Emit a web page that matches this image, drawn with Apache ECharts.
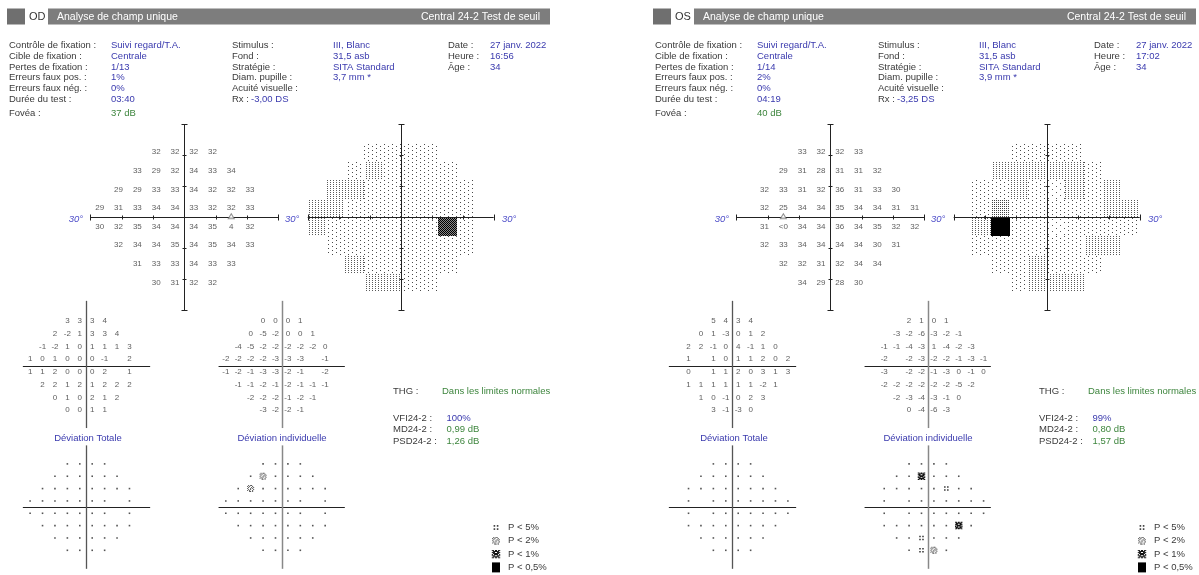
<!DOCTYPE html>
<html>
<head>
<meta charset="utf-8">
<title>Analyse de champ unique</title>
<script src="https://cdn.jsdelivr.net/npm/echarts@6.0.0/dist/echarts.min.js"></script>
<style>
html,body{margin:0;padding:0;background:#fff;}
#chart{width:1199px;height:575px;}
</style>
</head>
<body>
<div id="chart"></div>
<script>
// ================= DATA =================
const rowY = [21, 15, 9, 3, -3, -9, -15, -21];
const odColumns = [
  [-9, -3, 3, 9],
  [-15, -9, -3, 3, 9, 15],
  [-21, -15, -9, -3, 3, 9, 15, 21],
  [-27, -21, -15, -9, -3, 3, 9, 15, 21],
  [-27, -21, -15, -9, -3, 3, 9, 15, 21],
  [-21, -15, -9, -3, 3, 9, 15, 21],
  [-15, -9, -3, 3, 9, 15],
  [-9, -3, 3, 9]
];
const osColumns = [
  [-9, -3, 3, 9],
  [-15, -9, -3, 3, 9, 15],
  [-21, -15, -9, -3, 3, 9, 15, 21],
  [-21, -15, -9, -3, 3, 9, 15, 21, 27],
  [-21, -15, -9, -3, 3, 9, 15, 21, 27],
  [-21, -15, -9, -3, 3, 9, 15, 21],
  [-15, -9, -3, 3, 9, 15],
  [-9, -3, 3, 9]
];
const axisTicks = [-20, -10, 10, 20];
const odBlindSpotMarker = [[15, 0]];
const osBlindSpotMarker = [[-15, 0]];

const odThreshold = [
  [32, 32, 32, 32],
  [33, 29, 32, 34, 33, 34],
  [29, 29, 33, 33, 34, 32, 32, 33],
  [29, 31, 33, 34, 34, 33, 32, 32, 33],
  [30, 32, 35, 34, 34, 34, 35, 4, 32],
  [32, 34, 34, 35, 34, 35, 34, 33],
  [31, 33, 33, 34, 33, 33],
  [30, 31, 32, 32]
];
const osThreshold = [
  [33, 32, 32, 33],
  [29, 31, 28, 31, 31, 32],
  [32, 33, 31, 32, 36, 31, 33, 30],
  [32, 25, 34, 34, 35, 34, 34, 31, 31],
  [31, '<0', 34, 34, 36, 34, 35, 32, 32],
  [32, 33, 34, 34, 34, 34, 30, 31],
  [32, 32, 31, 32, 34, 34],
  [34, 29, 28, 30]
];
const odTotalDev = [
  [3, 3, 3, 4],
  [2, -2, 1, 3, 3, 4],
  [-1, -2, 1, 0, 1, 1, 1, 3],
  [1, 0, 1, 0, 0, 0, -1, null, 2],
  [1, 1, 2, 0, 0, 0, 2, null, 1],
  [2, 2, 1, 2, 1, 2, 2, 2],
  [0, 1, 0, 2, 1, 2],
  [0, 0, 1, 1]
];
const odPatternDev = [
  [0, 0, 0, 1],
  [0, -5, -2, 0, 0, 1],
  [-4, -5, -2, -2, -2, -2, -2, 0],
  [-2, -2, -2, -2, -3, -3, -3, null, -1],
  [-1, -2, -1, -3, -3, -2, -1, null, -2],
  [-1, -1, -2, -1, -2, -1, -1, -1],
  [-2, -2, -2, -1, -2, -1],
  [-3, -2, -2, -1]
];
const osTotalDev = [
  [5, 4, 3, 4],
  [0, 1, -3, 0, 1, 2],
  [2, 2, -1, 0, 4, -1, 1, 0],
  [1, null, 1, 0, 1, 1, 2, 0, 2],
  [0, null, 1, 1, 2, 0, 3, 1, 3],
  [1, 1, 1, 1, 1, 1, -2, 1],
  [1, 0, -1, 0, 2, 3],
  [3, -1, -3, 0]
];
const osPatternDev = [
  [2, 1, 0, 1],
  [-3, -2, -6, -3, -2, -1],
  [-1, -1, -4, -3, 1, -4, -2, -3],
  [-2, null, -2, -3, -2, -2, -1, -3, -1],
  [-3, null, -2, -2, -1, -3, 0, -1, 0],
  [-2, -2, -2, -2, -2, -2, -5, -2],
  [-2, -3, -4, -3, -1, 0],
  [0, -4, -6, -3]
];
// probability codes: 0 normal, 1 P<5%, 2 P<2%, 3 P<1%, 4 P<0,5%
const odTotalProb = [
  [0, 0, 0, 0],
  [0, 0, 0, 0, 0, 0],
  [0, 0, 0, 0, 0, 0, 0, 0],
  [0, 0, 0, 0, 0, 0, 0, null, 0],
  [0, 0, 0, 0, 0, 0, 0, null, 0],
  [0, 0, 0, 0, 0, 0, 0, 0],
  [0, 0, 0, 0, 0, 0],
  [0, 0, 0, 0]
];
const odPatternProb = [
  [0, 0, 0, 0],
  [0, 2, 0, 0, 0, 0],
  [0, 2, 0, 0, 0, 0, 0, 0],
  [0, 0, 0, 0, 0, 0, 0, null, 0],
  [0, 0, 0, 0, 0, 0, 0, null, 0],
  [0, 0, 0, 0, 0, 0, 0, 0],
  [0, 0, 0, 0, 0, 0],
  [0, 0, 0, 0]
];
const osTotalProb = [
  [0, 0, 0, 0],
  [0, 0, 0, 0, 0, 0],
  [0, 0, 0, 0, 0, 0, 0, 0],
  [0, null, 0, 0, 0, 0, 0, 0, 0],
  [0, null, 0, 0, 0, 0, 0, 0, 0],
  [0, 0, 0, 0, 0, 0, 0, 0],
  [0, 0, 0, 0, 0, 0],
  [0, 0, 0, 0]
];
const osPatternProb = [
  [0, 0, 0, 0],
  [0, 0, 3, 0, 0, 0],
  [0, 0, 0, 0, 0, 1, 0, 0],
  [0, null, 0, 0, 0, 0, 0, 0, 0],
  [0, null, 0, 0, 0, 0, 0, 0, 0],
  [0, 0, 0, 0, 0, 0, 3, 0],
  [0, 0, 1, 0, 0, 0],
  [0, 1, 2, 0]
];

const odInfoCol1 = [['Contrôle de fixation :', 'Suivi regard/T.A.'], ['Cible de fixation :', 'Centrale'], ['Pertes de fixation :', '1/13'], ['Erreurs faux pos. :', '1%'], ['Erreurs faux nég. :', '0%'], ['Durée du test :', '03:40']];
const odInfoCol2 = [['Stimulus :', 'III, Blanc'], ['Fond :', '31,5 asb'], ['Stratégie :', 'SITA Standard'], ['Diam. pupille :', '3,7 mm *'], ['Acuité visuelle :', ''], ['Rx :', '-3,00 DS']];
const odInfoCol3 = [['Date :', '27 janv. 2022'], ['Heure :', '16:56'], ['Âge :', '34']];
const odFovea = '37 dB';
const odIndices = [['VFI24-2 :', '100%'], ['MD24-2 :', '0,99 dB'], ['PSD24-2 :', '1,26 dB']];
const osInfoCol1 = [['Contrôle de fixation :', 'Suivi regard/T.A.'], ['Cible de fixation :', 'Centrale'], ['Pertes de fixation :', '1/14'], ['Erreurs faux pos. :', '2%'], ['Erreurs faux nég. :', '0%'], ['Durée du test :', '04:19']];
const osInfoCol2 = [['Stimulus :', 'III, Blanc'], ['Fond :', '31,5 asb'], ['Stratégie :', 'SITA Standard'], ['Diam. pupille :', '3,9 mm *'], ['Acuité visuelle :', ''], ['Rx :', '-3,25 DS']];
const osInfoCol3 = [['Date :', '27 janv. 2022'], ['Heure :', '17:02'], ['Âge :', '34']];
const osFovea = '40 dB';
const osIndices = [['VFI24-2 :', '99%'], ['MD24-2 :', '0,80 dB'], ['PSD24-2 :', '1,57 dB']];
const legendLabels = ['P < 5%', 'P < 2%', 'P < 1%', 'P < 0,5%'];

// ================= STYLE / LAYOUT =================
const FONT = '"Liberation Sans", Arial, sans-serif';
const C_LABEL = '#3a3a3a', C_BLUE = '#3a3aae', C_GREEN = '#3d853d', C_AXLBL = '#4b4bc8';
const PLOTS = {
  thr:  { cx: 184.3, cy: 217.3, sx: 3.13, sy: 3.1 },
  grey: { cx: 400.7, cy: 217.3, sx: 3.1,  sy: 3.1 },
  td:   { cx: 86,    cy: 365.5, sx: 2.07, sy: 2.12 },
  pd:   { cx: 281.7, cy: 365.5, sx: 2.07, sy: 2.12 },
  tdp:  { cx: 86,    cy: 508.5, sx: 2.07, sy: 2.1 },
  pdp:  { cx: 281.7, cy: 508.5, sx: 2.07, sy: 2.1 }
};

const BM_P5 = ['#.#', '...', '#.#'];
const BM_P2 = [
  '.#.##..',
  '#.#..#.',
  '.#..#.#',
  '#..#.#.',
  '.#.#..#',
  '#.#..#.',
  '..##.#.'
];
const BM_P1 = [
  '##.##.##',
  '.######.',
  '###..###',
  '.######.',
  '#.####.#',
  '###..###',
  '.######.',
  '##.##.##'
];
function bitmapPath(rows) {
  let d = '';
  rows.forEach((r, y) => { for (let x = 0; x < r.length; x++) if (r[x] === '#') d += 'M' + x + ' ' + y + 'h1v1h-1z'; });
  return d;
}
const PROB_SYMBOL = ['rect', 'path://' + bitmapPath(BM_P5), 'path://' + bitmapPath(BM_P2), 'path://' + bitmapPath(BM_P1), 'rect'];
const PROB_SIZE = [1.6, 4.5, 7, 7.5, 8];
const PROB_COLOR = ['#555', '#333', '#555', '#111', '#000'];

function makeTile(w, h, dots, color, bg) {
  const c = document.createElement('canvas');
  c.width = w; c.height = h;
  const g = c.getContext('2d');
  if (bg) { g.fillStyle = bg; g.fillRect(0, 0, w, h); }
  g.fillStyle = color;
  dots.forEach(p => g.fillRect(p[0], p[1], 1, 1));
  return { image: c, repeat: 'repeat' };
}
const greyFills = [
  makeTile(8, 6, [[0, 0], [4, 3]], '#5a5a5a'),
  makeTile(8, 4, [[0, 0], [4, 2]], '#4a4a4a'),
  makeTile(3, 2, [[0, 0]], '#5a5a5a'),
  makeTile(2, 2, [[0, 0]], '#444'),
  makeTile(2, 2, [[0, 0], [1, 1]], '#444'),
  makeTile(2, 2, [[0, 0], [1, 1], [1, 0]], '#333'),
  makeTile(2, 2, [[0, 0]], '#111', '#999'),
  makeTile(2, 2, [[0, 0], [1, 1]], '#000', '#8a8a8a'),
  '#000'
];
function greyLevel(v) {
  const n = typeof v === 'string' ? -1 : v;
  if (n <= 0) return 8;
  if (n <= 5) return 7;
  if (n <= 10) return 6;
  if (n <= 15) return 5;
  if (n <= 20) return 4;
  if (n <= 25) return 3;
  if (n <= 31) return 2;
  if (n <= 35) return 1;
  return 0;
}

// ================= BUILD =================
const grids = [], xAxes = [], yAxes = [], series = [], graphics = [];
const R = 33;
function addGrid(p, ox) {
  const i = grids.length;
  grids.push({ left: p.cx + ox - R * p.sx, top: p.cy - R * p.sy, width: 2 * R * p.sx, height: 2 * R * p.sy, show: false });
  xAxes.push({ gridIndex: i, type: 'value', min: -R, max: R, show: false });
  yAxes.push({ gridIndex: i, type: 'value', min: -R, max: R, show: false });
  return i;
}
function crossSeries(gi, o) {
  return {
    type: 'custom', xAxisIndex: gi, yAxisIndex: gi, silent: true, z: 5, animation: false,
    data: [[0, 0]],
    renderItem(params, api) {
      const ch = [];
      const c = api.coord([0, 0]);
      const cx = Math.round(c[0]) + 0.5, cy = Math.round(c[1]) + 0.5;
      const xl = api.coord([o.hExt[0], 0])[0], xr = api.coord([o.hExt[1], 0])[0];
      const yt = api.coord([0, o.vExt[1]])[1], yb = api.coord([0, o.vExt[0]])[1];
      ch.push({ type: 'line', shape: { x1: xl, y1: cy, x2: xr, y2: cy }, style: { stroke: o.hColor, lineWidth: 1 } });
      ch.push({ type: 'line', shape: { x1: cx, y1: yt, x2: cx, y2: yb }, style: { stroke: o.vColor, lineWidth: o.vWidth } });
      if (o.ticks) {
        axisTicks.forEach(t => {
          const px = Math.round(api.coord([t, 0])[0]) + 0.5;
          const py = Math.round(api.coord([0, t])[1]) + 0.5;
          ch.push({ type: 'line', shape: { x1: px, y1: cy - 2, x2: px, y2: cy + 2 }, style: { stroke: o.hColor, lineWidth: 1 } });
          ch.push({ type: 'line', shape: { x1: cx - 2, y1: py, x2: cx + 2, y2: py }, style: { stroke: o.vColor, lineWidth: 1 } });
        });
        [xl, xr].forEach(px => ch.push({ type: 'line', shape: { x1: Math.round(px) + 0.5, y1: cy - 3, x2: Math.round(px) + 0.5, y2: cy + 3 }, style: { stroke: o.hColor, lineWidth: 1 } }));
        [yt, yb].forEach(py => ch.push({ type: 'line', shape: { x1: cx - 3, y1: Math.round(py) + 0.5, x2: cx + 3, y2: Math.round(py) + 0.5 }, style: { stroke: o.vColor, lineWidth: 1 } }));
      }
      return { type: 'group', children: ch };
    }
  };
}
function numberSeries(gi, values, columns) {
  const data = [];
  values.forEach((row, r) => row.forEach((v, c) => {
    if (v !== null) data.push({ value: [columns[r][c], rowY[r]], name: String(v) });
  }));
  return {
    type: 'scatter', xAxisIndex: gi, yAxisIndex: gi, silent: true, z: 3, animation: false,
    symbolSize: 1, itemStyle: { color: 'rgba(0,0,0,0)' }, data,
    label: { show: true, position: 'inside', formatter: '{b}', fontSize: 8, fontFamily: FONT, color: '#333' }
  };
}
function greySeries(gi, values, columns) {
  const data = [];
  values.forEach((row, r) => row.forEach((v, c) => data.push([columns[r][c], rowY[r], greyLevel(v)])));
  return {
    type: 'custom', xAxisIndex: gi, yAxisIndex: gi, silent: true, z: 2, animation: false, data,
    renderItem(params, api) {
      const x = api.value(0), y = api.value(1), l = api.value(2);
      const a = api.coord([x - 3, y + 3]), b = api.coord([x + 3, y - 3]);
      const x0 = Math.round(a[0]), y0 = Math.round(a[1]), x1 = Math.round(b[0]), y1 = Math.round(b[1]);
      return { type: 'rect', shape: { x: x0, y: y0, width: x1 - x0, height: y1 - y0 }, style: { fill: greyFills[l] } };
    }
  };
}
function probSeries(gi, codes, columns) {
  const data = [];
  codes.forEach((row, r) => row.forEach((v, c) => { if (v !== null) data.push([columns[r][c], rowY[r], v]); }));
  return {
    type: 'scatter', xAxisIndex: gi, yAxisIndex: gi, silent: true, z: 3, animation: false, data,
    symbol: val => PROB_SYMBOL[val[2]],
    symbolSize: val => PROB_SIZE[val[2]],
    itemStyle: { color: p => PROB_COLOR[p.data[2]], opacity: 1 }
  };
}
function markerSeries(gi, pts) {
  return {
    type: 'scatter', xAxisIndex: gi, yAxisIndex: gi, silent: true, z: 6, animation: false,
    data: pts, symbol: 'triangle', symbolSize: [6, 5], symbolOffset: [0, -1],
    itemStyle: { color: '#fff', borderColor: '#777', borderWidth: 1 }
  };
}
function txt(x, y, text, fill, size, extra) {
  return { type: 'text', x, y, silent: true, z: 10,
    style: Object.assign({ text, fill, fontSize: size, fontFamily: FONT, verticalAlign: 'middle', align: 'left' }, extra || {}) };
}
function bitmapGroup(rows, cx, cy, px, color) {
  const h = rows.length, w = rows[0].length;
  const x0 = cx - w * px / 2, y0 = cy - h * px / 2;
  const ch = [];
  rows.forEach((r, y) => { for (let x = 0; x < r.length; x++) if (r[x] === '#') ch.push({ type: 'rect', shape: { x: x0 + x * px, y: y0 + y * px, width: px, height: px }, style: { fill: color } }); });
  return { type: 'group', silent: true, children: ch };
}

function buildEye(ox, eye, d) {
  // ---- header ----
  graphics.push({ type: 'rect', silent: true, shape: { x: 7 + ox, y: 8.5, width: 18, height: 16 }, style: { fill: '#6f6f6f' } });
  graphics.push({ type: 'rect', silent: true, shape: { x: 48 + ox, y: 8.5, width: 502, height: 16 }, style: { fill: '#7d7d7d' } });
  graphics.push(txt(29 + ox, 17, eye, '#333', 11));
  graphics.push(txt(57 + ox, 17, 'Analyse de champ unique', '#fff', 10.5));
  graphics.push(txt(540 + ox, 17, 'Central 24-2 Test de seuil', '#fff', 10.5, { align: 'right' }));
  // ---- info ----
  const y0 = 45.5, dy = 10.7, fs = 9.5;
  d.col1.forEach((r, i) => { graphics.push(txt(9 + ox, y0 + i * dy, r[0], C_LABEL, fs)); graphics.push(txt(111 + ox, y0 + i * dy, r[1], C_BLUE, fs)); });
  d.col2.forEach((r, i) => {
    graphics.push(txt(232 + ox, y0 + i * dy, r[0], C_LABEL, fs));
    graphics.push(txt((r[0] === 'Rx :' ? 251 : 333) + ox, y0 + i * dy, r[1], C_BLUE, fs));
  });
  d.col3.forEach((r, i) => { graphics.push(txt(448 + ox, y0 + i * dy, r[0], C_LABEL, fs)); graphics.push(txt(490 + ox, y0 + i * dy, r[1], C_BLUE, fs)); });
  graphics.push(txt(9 + ox, 113, 'Fovéa :', C_LABEL, fs));
  graphics.push(txt(111 + ox, 113, d.fovea, C_GREEN, fs));
  // ---- axis labels ----
  const ital = { fontStyle: 'italic' };
  graphics.push(txt(83 + ox, 219.5, '30°', C_AXLBL, 9.5, { align: 'right', fontStyle: 'italic' }));
  graphics.push(txt(285 + ox, 219.5, '30°', C_AXLBL, 9.5, ital));
  graphics.push(txt(502 + ox, 219.5, '30°', C_AXLBL, 9.5, ital));
  // ---- plots ----
  const thr = addGrid(PLOTS.thr, ox);
  series.push(crossSeries(thr, { hExt: [-30, 30], vExt: [-30, 30], ticks: true, hColor: '#222', vColor: '#222', vWidth: 1 }));
  series.push(numberSeries(thr, d.threshold, d.cols));
  series.push(markerSeries(thr, d.marker));
  const grey = addGrid(PLOTS.grey, ox);
  series.push(greySeries(grey, d.threshold, d.cols));
  series.push(crossSeries(grey, { hExt: [-30, 30], vExt: [-30, 30], ticks: true, hColor: '#222', vColor: '#222', vWidth: 1 }));
  const td = addGrid(PLOTS.td, ox);
  series.push(crossSeries(td, { hExt: [-30.5, 31], vExt: [-29.5, 30.5], ticks: false, hColor: '#222', vColor: '#555', vWidth: 1.3 }));
  series.push(numberSeries(td, d.totalDev, d.cols));
  const pd = addGrid(PLOTS.pd, ox);
  series.push(crossSeries(pd, { hExt: [-30.5, 30.5], vExt: [-29.5, 30.5], ticks: false, hColor: '#222', vColor: '#888', vWidth: 1.5 }));
  series.push(numberSeries(pd, d.patternDev, d.cols));
  const tdp = addGrid(PLOTS.tdp, ox);
  series.push(crossSeries(tdp, { hExt: [-30.5, 31], vExt: [-30, 30], ticks: false, hColor: '#222', vColor: '#555', vWidth: 1.3 }));
  series.push(probSeries(tdp, d.totalProb, d.cols));
  const pdp = addGrid(PLOTS.pdp, ox);
  series.push(crossSeries(pdp, { hExt: [-30.5, 30.5], vExt: [-30, 30], ticks: false, hColor: '#222', vColor: '#888', vWidth: 1.5 }));
  series.push(probSeries(pdp, d.patternProb, d.cols));
  // ---- titles ----
  graphics.push(txt(88 + ox, 438.5, 'Déviation Totale', C_BLUE, 9.5, { align: 'center' }));
  graphics.push(txt(282 + ox, 438.5, 'Déviation individuelle', C_BLUE, 9.5, { align: 'center' }));
  // ---- indices ----
  graphics.push(txt(393 + ox, 391.5, 'THG :', C_LABEL, fs));
  graphics.push(txt(442 + ox, 391.5, 'Dans les limites normales', C_GREEN, fs));
  d.indices.forEach((r, i) => {
    graphics.push(txt(393 + ox, 418 + i * 11.5, r[0], C_LABEL, fs));
    graphics.push(txt(446.5 + ox, 418 + i * 11.5, r[1], i === 0 ? C_BLUE : C_GREEN, fs));
  });
  // ---- legend ----
  const lx = 496 + ox;
  legendLabels.forEach((l, i) => {
    const y = 527.5 + i * 13.3;
    if (i === 0) graphics.push(bitmapGroup(BM_P5, lx, y, 1.6, '#333'));
    else if (i === 1) graphics.push(bitmapGroup(BM_P2, lx, y, 1.1, '#555'));
    else if (i === 2) graphics.push(bitmapGroup(BM_P1, lx, y, 1.05, '#111'));
    else graphics.push({ type: 'rect', silent: true, shape: { x: lx - 4, y: y - 5, width: 8, height: 10 }, style: { fill: '#000' } });
    graphics.push(txt(508 + ox, y, l, C_LABEL, fs));
  });
}

buildEye(0, 'OD', {
  col1: odInfoCol1, col2: odInfoCol2, col3: odInfoCol3, fovea: odFovea, indices: odIndices,
  cols: odColumns, threshold: odThreshold, totalDev: odTotalDev, patternDev: odPatternDev,
  totalProb: odTotalProb, patternProb: odPatternProb, marker: odBlindSpotMarker
});
buildEye(646, 'OS', {
  col1: osInfoCol1, col2: osInfoCol2, col3: osInfoCol3, fovea: osFovea, indices: osIndices,
  cols: osColumns, threshold: osThreshold, totalDev: osTotalDev, patternDev: osPatternDev,
  totalProb: osTotalProb, patternProb: osPatternProb, marker: osBlindSpotMarker
});

const chart = echarts.init(document.getElementById('chart'));
chart.setOption({
  backgroundColor: '#fff',
  animation: false,
  grid: grids, xAxis: xAxes, yAxis: yAxes,
  series,
  graphic: { elements: graphics }
});
</script>
</body>
</html>
